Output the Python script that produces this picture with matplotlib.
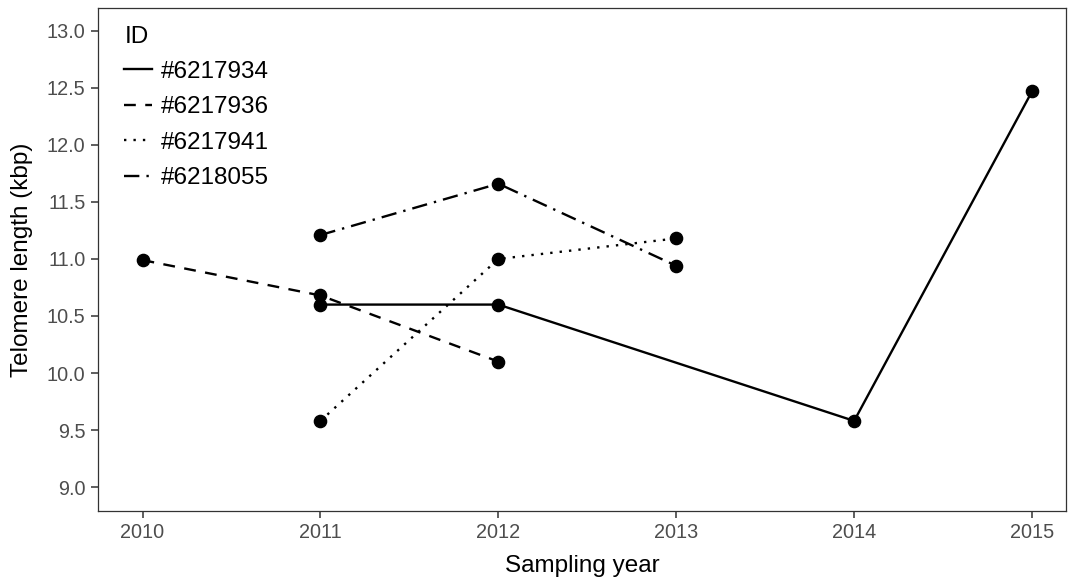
import matplotlib.pyplot as plt
import matplotlib as mpl

mpl.rcParams['font.family'] = ['Liberation Sans', 'DejaVu Sans']

# data
ids = ['#6217934', '#6217936', '#6217941', '#6218055']
years = {
    '#6217934': [2011, 2012, 2014, 2015],
    '#6217936': [2010, 2011, 2012],
    '#6217941': [2011, 2012, 2013],
    '#6218055': [2011, 2012, 2013],
}
telomere = {
    '#6217934': [10.60, 10.60, 9.58, 12.47],
    '#6217936': [10.99, 10.68, 10.10],
    '#6217941': [9.58, 11.00, 11.18],
    '#6218055': [11.21, 11.66, 10.94],
}
dash_styles = {
    '#6217934': (),
    '#6217936': (5, 4),
    '#6217941': (1, 3),
    '#6218055': (6.5, 3, 1, 3),
}
xticks = [2010, 2011, 2012, 2013, 2014, 2015]
yticks = [9.0, 9.5, 10.0, 10.5, 11.0, 11.5, 12.0, 12.5, 13.0]

fig = plt.figure(figsize=(10.68, 5.77), dpi=100)
ax = fig.add_axes([0.0918, 0.1144, 0.9062, 0.8716])

for i in ids:
    line, = ax.plot(years[i], telomere[i], color='black', lw=1.7, label=i)
    if dash_styles[i]:
        line.set_dashes(dash_styles[i])
    ax.plot(years[i], telomere[i], 'o', color='black', ms=8.8, zorder=3)

ax.set_xlim(2009.75, 2015.19)
ax.set_ylim(8.79, 13.2)
ax.set_xticks(xticks)
ax.set_yticks(yticks)
ax.set_yticklabels([f'{v:.1f}' for v in yticks])

for s in ax.spines.values():
    s.set_color('#333333')
    s.set_linewidth(0.9)
ax.tick_params(direction='out', length=5, width=1.1, color='#333333',
               labelsize=14.3, labelcolor='#4d4d4d', pad=4)

ax.set_xlabel('Sampling year', fontsize=17.5, labelpad=9)
ax.set_ylabel('Telomere length (kbp)', fontsize=17.5, labelpad=10)

leg = ax.legend(title='ID', loc='upper left', frameon=False, fontsize=17.5,
                title_fontsize=17.5, handlelength=1.15, handletextpad=0.35,
                labelspacing=0.55, borderaxespad=0.4,
                bbox_to_anchor=(0.007, 1.004))
leg._legend_box.align = 'left'

fig.savefig('out.png', dpi=100)
